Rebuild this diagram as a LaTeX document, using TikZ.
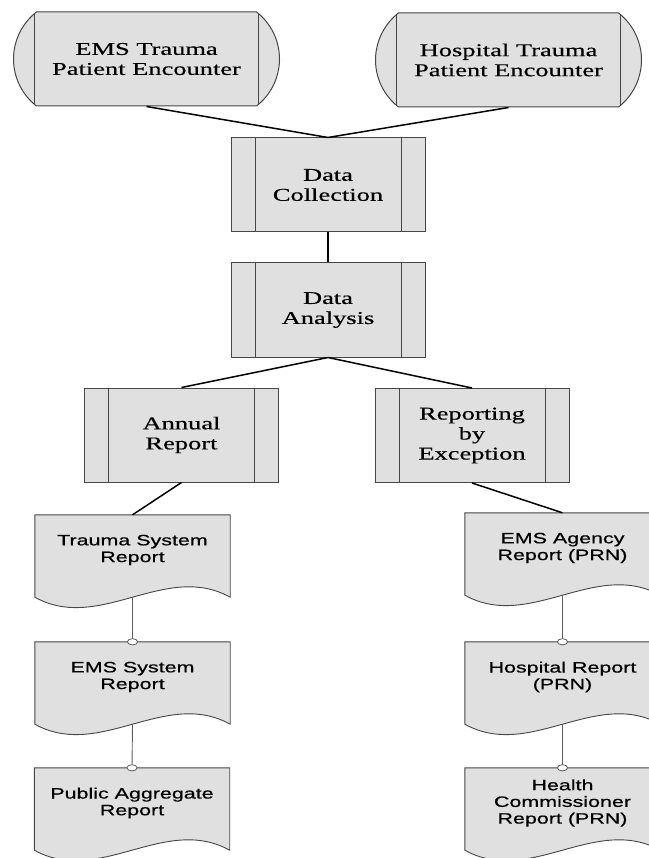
\documentclass[tikz,border=0pt]{standalone}
\usepackage{fontspec}
\setmainfont{Liberation Serif}[FakeStretch=1.47, FakeBold=0.4]
\newfontfamily\docfont{Liberation Sans}[FakeStretch=1.43, FakeBold=0.6]
\usetikzlibrary{shapes.misc,arrows.meta,backgrounds}
\definecolor{boxgray}{RGB}{224,224,224}
\definecolor{linegray}{RGB}{70,70,70}
\definecolor{linkgray}{RGB}{95,95,95}

\begin{document}
\begin{tikzpicture}
	[
	x=1pt, y=-1pt,
	align=center,
	term/.style={rounded rectangle, rounded rectangle arc length=104,
		draw=linegray, line width=1pt, fill=boxgray,
		minimum width=266pt, minimum height=94pt, inner sep=0pt,
		font=\fontsize{18}{20}\selectfont,
		path picture={
			\draw[linegray, line width=1pt] ([xshift=23pt]path picture bounding box.north west) -- ([xshift=23pt]path picture bounding box.south west);
			\draw[linegray, line width=1pt] ([xshift=-23pt]path picture bounding box.north east) -- ([xshift=-23pt]path picture bounding box.south east);}},
	proc/.style={rectangle, draw=linegray, line width=1pt, fill=boxgray,
		minimum width=194pt, minimum height=94pt, inner sep=0pt,
		font=\fontsize{18}{20}\selectfont,
		path picture={
			\draw[linegray, line width=1pt] ([xshift=24pt]path picture bounding box.north west) -- ([xshift=24pt]path picture bounding box.south west);
			\draw[linegray, line width=1pt] ([xshift=-24pt]path picture bounding box.north east) -- ([xshift=-24pt]path picture bounding box.south east);}},
	doc/.style={rectangle, minimum width=195pt, minimum height=70pt, inner sep=0pt,
		font=\docfont\fontsize{15}{16.7}\selectfont},
	docshape/.style={draw=linegray, line width=0.9pt, fill=boxgray},
	flow/.style={draw=black, line width=1.5pt},
	link/.style={draw=linkgray, line width=0.9pt, shorten >=-3.5pt,
		-{Ellipse[length=7pt, width=11pt, fill=white, line width=0.8pt]}},
	]
		\useasboundingbox (0,0) rectangle (648,858);

		% encounters
		\node[term] (tl) at 		( 146.5,  59 ) {EMS Trauma\\Patient Encounter};
		\node[term] (tr) at 		( 508.5,  60 ) {Hospital Trauma\\Patient Encounter};

		% processing
		\node[proc] (dc) at 		( 328, 185 ) {Data\\Collection};
		\node[proc] (da) at 		( 328, 310 ) {Data\\Analysis};
		\node[proc] (ar) at 		( 181.5, 435 ) {Annual\\Report};
		\node[proc] (re) at 		( 472, 435.5 ) {Reporting\\by\\Exception};

		% left-hand reports
		\node[doc] (ts) at 		( 132.5, 550 ) {Trauma System\\Report};
		\node[doc] (es) at 		( 132.5, 677 ) {EMS System\\Report};
		\node[doc] (pa) at 		( 132, 803 ) {Public Aggregate\\Report};

		% right-hand reports
		\node[doc] (ea) at 		( 562.5, 548 ) {EMS Agency\\Report (PRN)};
		\node[doc] (hr) at 		( 562.5, 677 ) {Hospital Report\\(PRN)};
		\node[doc] (hc) at 		( 562.5, 803 ) {Health\\Commissioner\\Report (PRN)};

		\begin{scope}[on background layer]
		\foreach \n in {ts,es,pa,ea,hr,hc}
			\draw[docshape] (\n.north west) -- ([yshift=-12pt]\n.south west)
				.. controls ([xshift=65pt,yshift=-48pt]\n.south west) and ([xshift=-65pt,yshift=24pt]\n.south east) .. ([yshift=-12pt]\n.south east)
				-- (\n.north east) -- cycle;
		\end{scope}

		\foreach \from/\to in {tl/dc,tr/dc,dc/da,da/ar,da/re,ar/ts,re/ea} \draw[flow] (\from.south) -- (\to.north);
		\foreach \from/\to in {ts/es,es/pa,ea/hr,hr/hc} \draw[link] ([yshift=-12pt]\from.south) -- (\to.north);

	\end{tikzpicture}
\end{document}
